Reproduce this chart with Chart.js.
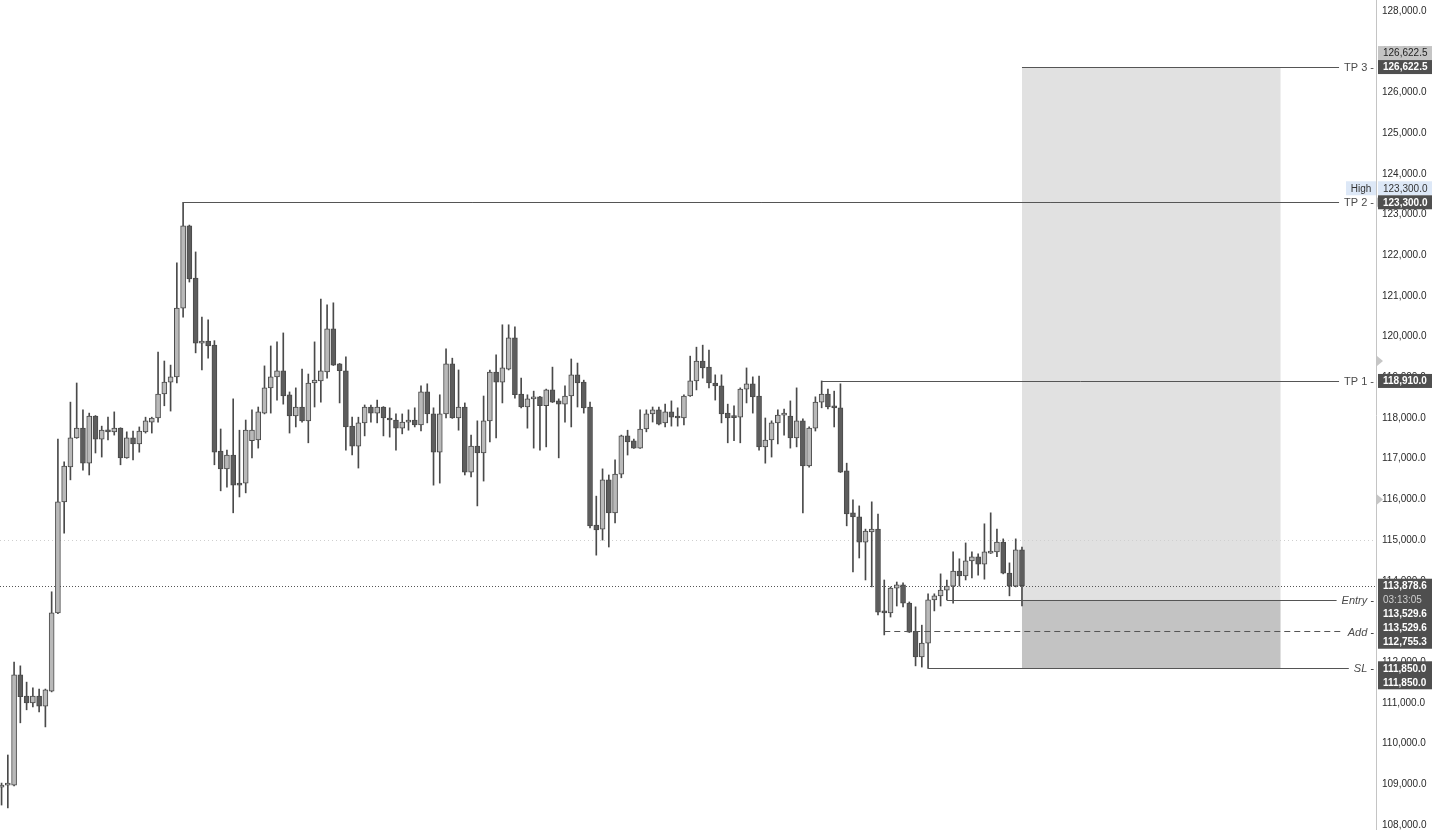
<!DOCTYPE html>
<html>
<head>
<meta charset="utf-8">
<script src="https://cdn.jsdelivr.net/npm/chart.js@4.4.1/dist/chart.umd.min.js"></script>
<style>
  body { margin: 0; background: #fff; }
  #wrap { width: 1434px; height: 830px; }
</style>
</head>
<body>
<div id="wrap"><canvas id="c" width="1434" height="830"></canvas></div>
<script>
// candle values (price units)
var opens = [108930,108980,108980,111690,111170,111000,111170,110920,111290,113210,
  115940,116800,117510,117750,116890,118050,117480,117700,117660,117750,
  117020,117510,117360,117660,117900,118000,118590,118880,119010,120700,
  122720,121440,119840,119890,119790,117190,116750,117090,116400,116400,
  117440,117460,118120,118740,119010,119160,118570,118050,118270,117930,
  118860,118910,119130,120190,119330,119160,117800,117310,117880,118270,
  118120,118270,118000,117950,117750,117900,117950,117830,118640,118100,
  117160,118100,119330,118000,118270,116670,117310,117140,117930,119130,
  118880,119200,119970,118590,118270,118470,118520,118300,118690,118420,
  118340,118540,119060,118880,118270,115370,115270,116480,115670,116620,
  117560,117440,117260,117730,118100,118200,117880,118150,118050,118000,
  118540,118910,119400,119250,118860,118790,118120,118020,118020,118710,
  118840,118540,117290,117460,117880,118070,118050,117510,117930,116820,
  117750,118390,118590,118300,118250,116700,115670,115570,114950,115200,
  115270,113260,113210,113820,113900,113450,112760,112130,112470,113530,
  113630,113770,113870,114240,114120,114490,114590,114410,114680,114710,
  114950,114190,113870,114760];
var highs = [109030,109720,112000,111910,111510,111370,111340,111340,113730,117480,
  116920,118390,118860,118200,118120,118060,117800,118020,118150,117760,
  117660,117680,117780,118020,118020,119620,119400,119300,121810,123300,
  122740,122080,120480,120410,119900,117730,117210,118470,117700,117950,
  118200,118270,119280,119770,119870,120090,118640,118740,119200,119080,
  119870,120920,120780,120830,119340,119500,118020,118020,118320,118320,
  118440,118280,118250,118100,118100,118200,118250,118790,118840,118250,
  118570,119700,119470,119180,118370,117580,117930,118540,119180,119550,
  120290,120290,120240,118980,118570,118660,118530,118710,119250,118470,
  118790,119450,119350,118930,118390,116080,116750,116600,116970,117580,
  117700,117480,118200,118200,118270,118270,118340,118420,118250,118570,
  119520,119740,119790,119670,119060,119060,118340,118300,118740,119230,
  119010,119030,118000,117930,118200,118220,118420,118740,117980,117780,
  118520,118910,118710,118660,118840,116890,115990,115840,115270,115940,
  115640,114020,113850,113970,113950,113480,113360,112910,113680,113680,
  114170,114020,114710,114540,114930,114710,114660,115400,115670,115270,
  115030,114440,115030,114830];
var lows = [108490,108420,108960,110510,110830,110900,110780,110410,111270,113190,
  115170,116480,117500,116720,116600,117140,117040,117460,117580,116850,
  117010,116970,117160,117630,117630,117900,118300,118170,118860,120480,
  121340,119600,119180,119470,116850,116210,116300,115670,116060,116160,
  117020,117260,118100,118120,118440,118340,117630,117780,117900,117390,
  118270,118390,118980,119290,118370,117210,117090,116770,117560,117900,
  117880,117560,117530,117210,117610,117700,117780,117680,117880,116350,
  116400,118000,117990,117700,116600,116550,115840,116450,117410,117510,
  118370,119180,118490,118250,117750,117260,117210,117290,118380,117020,
  117900,117780,118270,118120,115300,114630,115000,114830,115420,116530,
  117090,117250,117250,117660,117900,117830,117780,117800,117800,117830,
  118530,118690,118980,118740,118440,117880,117390,117440,117390,118370,
  118120,117210,116890,117040,117360,117580,117260,117290,115670,116790,
  117680,118250,118220,117780,116660,115350,114220,114560,114020,113850,
  113160,112670,113110,113380,113360,112730,111910,111880,111850,113260,
  113380,113530,113450,113870,114020,114070,114140,114040,114670,114590,
  114170,113630,113850,113380];
var closes = [108980,108990,111690,111150,111000,111170,110920,111320,113210,115940,
  116820,117510,117750,116890,118050,117480,117700,117660,117750,117020,
  117510,117360,117680,117930,118000,118590,118880,119010,120700,122720,
  121420,119840,119870,119770,117160,116750,117090,116350,116350,117700,
  117700,118150,118740,119010,119160,118540,118050,118270,117930,118860,
  118930,119160,120190,119300,119160,117780,117310,117880,118270,118120,
  118270,118000,117950,117750,117900,117950,117830,118640,118100,117160,
  118100,119330,118000,118270,116670,117310,117140,117930,119130,118880,
  119230,119970,118570,118270,118470,118520,118300,118690,118390,118340,
  118540,119060,118860,118250,115350,115250,116480,115670,116620,117560,
  117410,117260,117730,118100,118200,117850,118150,118020,118000,118540,
  118910,119400,119230,118860,118790,118100,118000,118010,118710,118840,
  118520,117290,117460,117880,118070,118080,117510,117930,116820,117750,
  118390,118590,118270,118250,116670,115640,115570,114950,115220,115270,
  113230,113210,113820,113900,113450,112740,112130,112470,113530,113630,
  113770,113870,114240,114120,114490,114590,114410,114710,114710,114950,
  114190,113870,114760,113878.6];

var tickValues = [108000,109000,110000,111000,112000,113000,114000,115000,116000,117000,
  118000,119000,120000,121000,122000,123000,124000,125000,126000,127000,128000];

// trade plan levels
var levelNames  = ['TP 3', 'TP 2', 'TP 1', 'Entry', 'Add', 'SL'];
var levelPrices = [126622.5, 123300, 118910, 113529.6, 112755.3, 111850];
var levelFrom   = [163, 29, 131, 151, 141, 148];
var lastPrice = 113878.6;
var countdown = '03:13:05';
var faintLevel = 115000;
var alertPrices = [123300, 119400, 116000];
var boxFrom = 163, boxTo = 204.3;

function fmt(v) {
  return v.toLocaleString('en-US', { minimumFractionDigits: 1, maximumFractionDigits: 1 });
}

var bodies = [], wicks = [], bodyColors = [];
for (var i = 0; i < opens.length; i++) {
  bodies.push({ x: i, y: [opens[i], closes[i]] });
  wicks.push({ x: i, y: [lows[i], highs[i]] });
  bodyColors.push(closes[i] >= opens[i] ? '#b9b9b9' : '#5d5d5d');
}

var FONT = 'Liberation Sans';

function hline(ctx, x0, x1, yy, color, dash) {
  ctx.beginPath();
  ctx.setLineDash(dash || []);
  ctx.strokeStyle = color;
  ctx.lineWidth = 1;
  yy = Math.round(yy) + 0.5;
  ctx.moveTo(x0, yy);
  ctx.lineTo(x1, yy);
  ctx.stroke();
  ctx.setLineDash([]);
}

function tag(ctx, left, yc, rows, bg, fgs, bold) {
  var h = 14;
  ctx.fillStyle = bg;
  ctx.fillRect(left, yc - h / 2, 54, h * rows.length);
  ctx.textBaseline = 'middle';
  ctx.textAlign = 'left';
  for (var r = 0; r < rows.length; r++) {
    ctx.font = (bold[r] ? 'bold ' : '') + '10px "' + FONT + '"';
    ctx.fillStyle = fgs[r];
    ctx.fillText(rows[r], left + 5, yc + r * h + 0.5);
  }
}

var overlay = {
  id: 'overlay',
  beforeDatasetsDraw: function (chart) {
    var ctx = chart.ctx, a = chart.chartArea, x = chart.scales.x, y = chart.scales.y;
    ctx.save();
    var x0 = x.getPixelForValue(boxFrom), x1 = x.getPixelForValue(boxTo);
    var yTop = y.getPixelForValue(levelPrices[0]);
    var yEntry = y.getPixelForValue(levelPrices[3]);
    var ySL = y.getPixelForValue(levelPrices[5]);
    ctx.fillStyle = '#e1e1e1';
    ctx.fillRect(x0, yTop, x1 - x0, yEntry - yTop);
    ctx.fillStyle = '#c3c3c3';
    ctx.fillRect(x0, yEntry, x1 - x0, ySL - yEntry);
    hline(ctx, a.left, a.right, y.getPixelForValue(faintLevel), '#cfcfcf', [1, 3]);
    hline(ctx, a.left, a.right, y.getPixelForValue(lastPrice), '#555555', [1, 2]);
    ctx.restore();
  },
  afterDatasetsDraw: function (chart) {
    var ctx = chart.ctx, a = chart.chartArea, x = chart.scales.x, y = chart.scales.y;
    ctx.save();
    // level lines with names
    for (var k = 0; k < levelNames.length; k++) {
      var yy = y.getPixelForValue(levelPrices[k]);
      var italic = k >= 3;
      ctx.font = (italic ? 'italic ' : '') + '11px "' + FONT + '"';
      var label = levelNames[k] + ' -';
      var tw = ctx.measureText(label).width;
      var textRight = a.right - 2;
      hline(ctx, x.getPixelForValue(levelFrom[k]), textRight - tw - 5, yy, '#555555', k === 4 ? [6, 4] : []);
      ctx.fillStyle = '#4a4a4a';
      ctx.textAlign = 'right';
      ctx.textBaseline = 'middle';
      ctx.fillText(label, textRight, yy + 1);
    }
    // alert markers on the axis
    ctx.fillStyle = '#c6c6c6';
    alertPrices.forEach(function (p) {
      var yy = y.getPixelForValue(p);
      ctx.beginPath();
      ctx.moveTo(a.right + 1, yy - 5);
      ctx.lineTo(a.right + 7, yy);
      ctx.lineTo(a.right + 1, yy + 5);
      ctx.closePath();
      ctx.fill();
    });
    // price tags
    var L = a.right + 2, dark = '#4f4f4f', row = 14;
    var yTP3 = y.getPixelForValue(levelPrices[0]);
    tag(ctx, L, yTP3 - row, [fmt(levelPrices[0])], '#c4c4c4', ['#222'], [false]);
    tag(ctx, L, yTP3, [fmt(levelPrices[0])], dark, ['#fff'], [true]);
    var yTP2 = y.getPixelForValue(levelPrices[1]);
    tag(ctx, L, yTP2 - row, [fmt(levelPrices[1])], '#dde8f7', ['#333'], [false]);
    ctx.fillStyle = '#dde8f7';
    ctx.fillRect(a.right - 30, yTP2 - row - 7, 30, 14);
    ctx.fillStyle = '#333';
    ctx.textAlign = 'center';
    ctx.font = '10px "' + FONT + '"';
    ctx.fillText('High', a.right - 15, yTP2 - row + 0.5);
    tag(ctx, L, yTP2, [fmt(levelPrices[1])], dark, ['#fff'], [true]);
    tag(ctx, L, y.getPixelForValue(levelPrices[2]), [fmt(levelPrices[2])], dark, ['#fff'], [true]);
    tag(ctx, L, y.getPixelForValue(lastPrice),
      [fmt(lastPrice), countdown, fmt(levelPrices[3]), fmt(levelPrices[3]), fmt(levelPrices[4])],
      dark, ['#fff', '#cfcfcf', '#fff', '#fff', '#fff'], [true, false, true, true, true]);
    tag(ctx, L, y.getPixelForValue(levelPrices[5]), [fmt(levelPrices[5]), fmt(levelPrices[5])],
      dark, ['#fff', '#fff'], [true, true]);
    ctx.restore();
  }
};

var ctx = document.getElementById('c').getContext('2d');
var chart = new Chart(ctx, {
  type: 'bar',
  data: {
    datasets: [{
      label: 'wicks',
      data: wicks,
      backgroundColor: '#4a4a4a',
      borderWidth: 0,
      barThickness: 1,
      grouped: false,
      order: 2
    }, {
      label: 'bodies',
      data: bodies,
      backgroundColor: bodyColors,
      borderColor: '#4a4a4a',
      borderWidth: 1,
      borderSkipped: false,
      barThickness: 5,
      minBarLength: 2,
      grouped: false,
      order: 1
    }]
  },
  options: {
    responsive: false,
    animation: false,
    layout: { padding: 0 },
    plugins: { legend: { display: false }, tooltip: { enabled: false } },
    scales: {
      x: {
        type: 'linear',
        min: -0.25,
        max: 219.55,
        display: false,
        offset: false
      },
      y: {
        position: 'right',
        min: 107877,
        max: 128270,
        grid: { display: false, drawTicks: false },
        border: { color: '#c4c4c4' },
        afterBuildTicks: function (scale) {
          scale.ticks = tickValues.map(function (v) { return { value: v }; });
        },
        afterFit: function (scale) {
          scale.width = 58;
          scale.paddingTop = 0;
          scale.paddingBottom = 0;
        },
        ticks: {
          padding: 6,
          color: '#2a2a2a',
          font: { family: FONT, size: 10 },
          callback: function (v) { return fmt(v); }
        }
      }
    }
  },
  plugins: [overlay]
});
</script>
</body>
</html>
